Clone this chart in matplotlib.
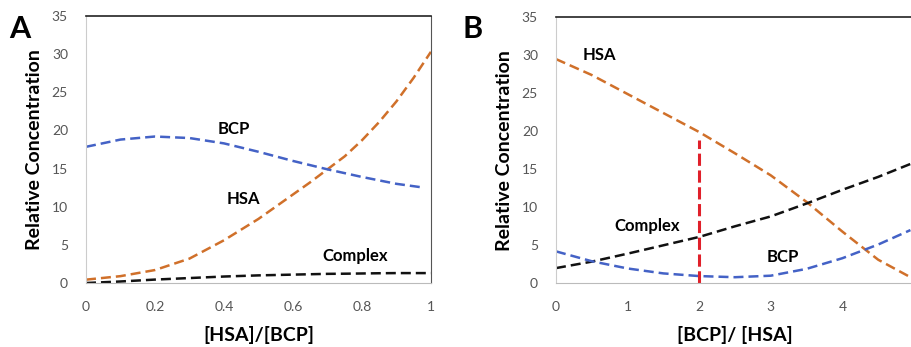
import matplotlib.pyplot as plt

plt.rcParams['font.family'] = ['Lato', 'DejaVu Sans']

# ---- Data: panel A (x = [HSA]/[BCP]) ----
xa = [0, 0.1, 0.2, 0.3, 0.4, 0.5, 0.6, 0.65, 0.7, 0.75, 0.8, 0.85, 0.9, 0.95, 1.0]
hsa_a = [0.44, 0.9, 1.7, 3.2, 5.6, 8.4, 11.6, 13.2, 14.9, 16.6, 18.7, 21.1, 23.8, 26.9, 30.3]
complex_a = [0.0, 0.2, 0.45, 0.65, 0.85, 1.0, 1.1, 1.15, 1.2, 1.22, 1.25, 1.28, 1.3, 1.3, 1.3]
xa_bcp = [0, 0.1, 0.2, 0.3, 0.4, 0.5, 0.6, 0.7, 0.8, 0.9, 0.98]
bcp_a = [17.85, 18.8, 19.2, 19.0, 18.3, 17.2, 16.0, 14.9, 13.9, 13.0, 12.5]

# ---- Data: panel B (x = [BCP]/[HSA]) ----
xb = [0, 0.5, 1, 1.5, 2, 2.5, 3, 3.5, 4, 4.5, 4.95]
hsa_b = [29.5, 27.4, 24.9, 22.4, 19.9, 17.1, 14.2, 10.7, 6.8, 3.1, 0.8]
complex_b = [2.0, 2.85, 3.9, 5.0, 6.1, 7.5, 8.8, 10.5, 12.3, 14.0, 15.7]
bcp_b = [4.2, 2.9, 1.95, 1.3, 0.95, 0.8, 1.0, 1.9, 3.3, 5.1, 7.0]
marker_x = 2
marker_top = 18.9

ORANGE = "#D0702A"
BLUE = "#4462C6"
BLACK = "#111111"
RED = "#E0202A"

fig = plt.figure(figsize=(9.11, 3.47), dpi=100)
axA = fig.add_axes([0.0944, 0.1844, 0.3786, 0.7696])
axB = fig.add_axes([0.6103, 0.1836, 0.3930, 0.7666])

dash = dict(lw=1.8, dashes=(4, 2))


def style(ax, xticks, xlabels, xlim, right_spine=True):
    ax.set_ylim(0, 35)
    ax.set_xlim(*xlim)
    ax.set_yticks(range(0, 36, 5))
    ax.set_xticks(xticks)
    ax.set_xticklabels(xlabels)
    ax.tick_params(length=0, labelsize=10, labelcolor="#555555")
    ax.tick_params(axis="y", pad=13)
    ax.tick_params(axis="x", pad=13)
    ax.spines["top"].set_color("#222222")
    ax.spines["top"].set_linewidth(1.2)
    ax.spines["left"].set_color("#cccccc")
    ax.spines["bottom"].set_color("#bbbbbb")
    ax.spines["right"].set_color("#555555")
    ax.spines["right"].set_visible(right_spine)
    ax.set_ylabel("Relative Concentration", fontsize=14, fontweight="bold", labelpad=6)


# ---- Panel A ----
axA.plot(xa, hsa_a, color=ORANGE, **dash)
axA.plot(xa_bcp, bcp_a, color=BLUE, **dash)
axA.plot(xa, complex_a, color=BLACK, **dash)
style(axA, [0, 0.2, 0.4, 0.6, 0.8, 1.0], ["0", "0.2", "0.4", "0.6", "0.8", "1"], (0, 1))
axA.set_xlabel("[HSA]/[BCP]", fontsize=14, fontweight="bold", labelpad=9)
axA.text(0.43, 20.25, "BCP", fontsize=12, fontweight="bold", ha="center", va="center")
axA.text(0.456, 11.07, "HSA", fontsize=12, fontweight="bold", ha="center", va="center")
axA.text(0.78, 3.5, "Complex", fontsize=12, fontweight="bold", ha="center", va="center")
fig.text(0.022, 0.915, "A", fontsize=22, fontweight="bold", ha="center", va="center")

# ---- Panel B ----
axB.plot(xb, hsa_b, color=ORANGE, **dash)
axB.plot(xb, complex_b, color=BLACK, **dash)
axB.plot(xb, bcp_b, color=BLUE, **dash)
axB.plot([marker_x, marker_x], [0, marker_top], color=RED, lw=2.2, dashes=(4, 1.5))
style(axB, [0, 1, 2, 3, 4, 5], ["0", "1", "2", "3", "4", "5"], (0, 5), right_spine=False)
axB.set_xlabel("[BCP]/ [HSA]", fontsize=14, fontweight="bold", labelpad=9)
axB.text(0.61, 30.1, "HSA", fontsize=12, fontweight="bold", ha="center", va="center")
axB.text(1.27, 7.5, "Complex", fontsize=12, fontweight="bold", ha="center", va="center")
axB.text(3.17, 3.4, "BCP", fontsize=12, fontweight="bold", ha="center", va="center")
fig.text(0.519, 0.915, "B", fontsize=22, fontweight="bold", ha="center", va="center")

plt.savefig("out.png", dpi=100)
